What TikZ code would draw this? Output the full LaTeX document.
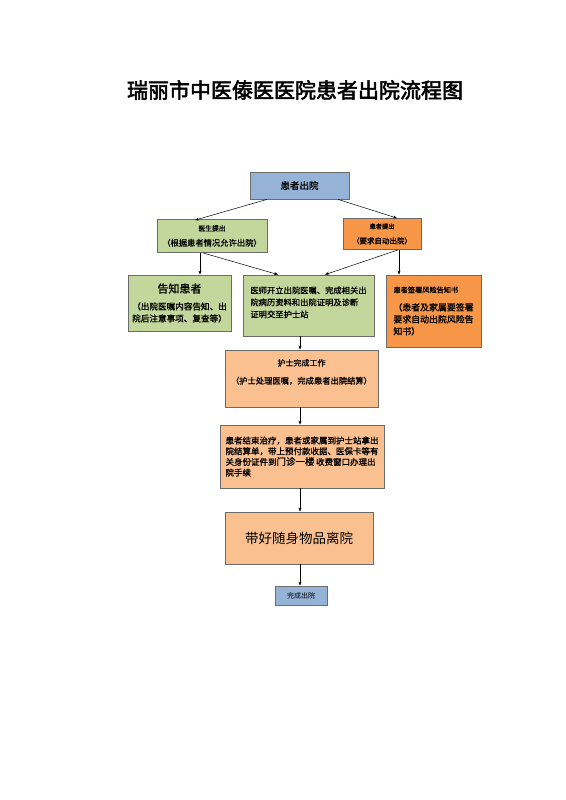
\documentclass[tikz,border=0pt]{standalone}
\usepackage{fontspec}
\usetikzlibrary{arrows.meta}
\newfontfamily\cjk{Noto Sans CJK SC}
\newfontfamily\cjkb[FakeBold=1.2]{Noto Sans CJK SC}
\newfontfamily\cjkt[FakeBold=2.5]{Noto Sans CJK SC}
\definecolor{bblue}{HTML}{95B3D7}
\definecolor{bgreen}{HTML}{C3D69B}
\definecolor{borange}{HTML}{F79646}
\definecolor{blight}{HTML}{FAC090}
\definecolor{bline}{HTML}{6B6B6B}
\newcommand{\fs}[2]{\fontsize{#1pt}{#2pt}\selectfont}
\begin{document}
\begin{tikzpicture}[x=1pt,y=-1pt,
  box/.style={draw=bline,line width=0.8pt,rectangle,inner sep=0pt,anchor=center},
  arr/.style={-{Stealth[length=4pt,width=3pt]},line width=0.5pt,black}]
\useasboundingbox (0,0) rectangle (565,800);
\fill[white] (0,0) rectangle (565,800);
\node[font=\cjkt\fs{21}{24}] (title) at (295,90) {瑞丽市中医傣医医院患者出院流程图};
\node[box,fill=bblue,minimum width=99pt,minimum height=27pt,font=\cjkb\fs{9.5}{12}] (b1) at (299.5,185.5) {患者出院};
\node[box,fill=bgreen,minimum width=110pt,minimum height=33pt,align=center,font=\cjkb] (b2) at (212,236)
  {\fs{6.8}{8}医生提出\\[3pt]\fs{8.3}{10}（根据患者情况允许出院）};
\node[box,fill=borange,minimum width=78pt,minimum height=31pt,align=center,font=\cjkb] (b3) at (382,234)
  {\fs{6.2}{8}患者提出\\[3pt]\fs{7.5}{10}（要求自动出院）};
\node[box,fill=bgreen,minimum width=103pt,minimum height=56pt,align=center,font=\cjkb] (b4) at (179.5,303)
  {\fs{11}{13}告知患者\\[5pt]\fs{8.6}{12}（出院医嘱内容告知、出\\\fs{8.6}{12}院后注意事项、复查等）};
\node[box,fill=bgreen,minimum width=131pt,minimum height=61pt,align=left,font=\cjkb\fs{8.3}{12}] (b5) at (308.5,305.5)
  {医师开立出院医嘱、完成相关出\\院病历资料和出院证明及诊断\\证明交至护士站\\[-5pt]\mbox{}};
\node[box,fill=borange,minimum width=95pt,minimum height=72pt,align=left,font=\cjkb] (b6) at (433.5,311)
  {\fs{7.2}{9}患者签署风险告知书\\[6pt]\fs{8.9}{12.5}（患者及家属要签署\\\fs{8.9}{12.5}要求自动出院风险告\\\fs{8.9}{12.5}知书）};
\node[box,fill=blight,minimum width=153pt,minimum height=57pt,align=center,font=\cjkb] (b7) at (301.5,378.5)
  {\fs{8}{10}护士完成工作\\[6pt]\fs{8.3}{10}（护士处理医嘱，完成患者出院结算）\\[2pt]\mbox{}};
\node[box,fill=blight,minimum width=164pt,minimum height=63pt,align=left,font=\cjkb\fs{8.5}{10.7}] (b8) at (302,456.5)
  {患者结束治疗，患者或家属到护士站拿出\\院结算单，带上预付款收据、医保卡等有\\关身份证件到\cjkb\fs{9.5}{10.7}门诊一楼\,\fs{8.5}{10.7}收费窗口办理出\\院手续};
\node[box,fill=blight,minimum width=148pt,minimum height=52pt,font=\cjk\fs{13.5}{16}] (b9) at (299,538) {带好随身物品离院};
\node[box,fill=bblue,minimum width=52pt,minimum height=19pt,font=\cjk\fs{7}{9}] (b10) at (301,595.5) {完成出院};
\draw[arr] ([xshift=-32.5pt]b1.south) -- ([xshift=-17pt,yshift=-1pt]b2.north);
\draw[arr] ([xshift=38.5pt]b1.south) -- ([xshift=15pt]b3.north);
\draw[arr] ([xshift=-12pt]b2.south) -- ([xshift=20.5pt]b4.north);
\draw[arr] ([xshift=-9pt]b2.south) -- ([xshift=-30.5pt]b5.north);
\draw[arr] ([xshift=16pt]b3.south) -- ([xshift=16.5pt]b5.north);
\draw[arr] ([xshift=17pt]b3.south) -- ([xshift=-34.5pt]b6.north);
\draw[arr] ([xshift=-8.5pt]b5.south) -- ([xshift=-1.5pt]b7.north);
\draw[arr] ([xshift=-1.5pt]b7.south) -- ([xshift=-2pt]b8.north);
\draw[arr] ([xshift=-2pt]b8.south) -- ([xshift=1pt]b9.north);
\draw[arr] ([xshift=1pt]b9.south) -- ([xshift=-1pt]b10.north);
\end{tikzpicture}
\end{document}
